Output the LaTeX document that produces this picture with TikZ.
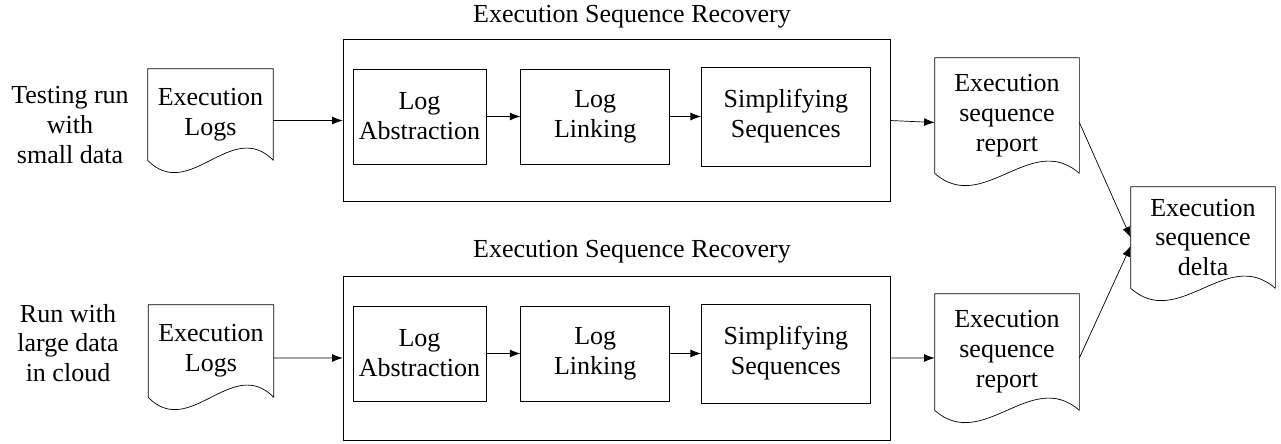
\documentclass[tikz,border=0pt]{standalone}
\usepackage{fontspec}
\setmainfont{Liberation Serif}
\usetikzlibrary{arrows.meta, positioning, calc}
\tikzset{
    -{Latex[length=6pt,width=4.5pt]}, node distance = 0.65cm, line width=0.6pt,% one pixel of the reference is 0.02cm
    every node/.style = {font=\fontsize{14.8}{17}\selectfont, align=center},
    proc/.style = {rectangle, draw, minimum height=1.9cm}, % the three steps inside a recovery box
    stage/.style = {rectangle, draw, minimum width=10.94cm, minimum height=3.24cm}, % the big recovery box
    % a sheet: the node is the flat part, the wavy bottom hangs below it
    doc/.style = {rectangle, minimum width=2.5cm, minimum height=1.82cm,
        append after command={\pgfextra{\draw[-, line join=round] (\tikzlastnode.south west) -- (\tikzlastnode.north west) -- (\tikzlastnode.north east) -- (\tikzlastnode.south east)
            .. controls ($(\tikzlastnode.south west)!0.667!(\tikzlastnode.south east)+(0,0.85cm)$) and ($(\tikzlastnode.south west)!0.333!(\tikzlastnode.south east)+(0,-0.85cm)$) .. (\tikzlastnode.south west) -- cycle;}}}
}
\begin{document}
\begin{tikzpicture}[x=0.02cm, y=-0.02cm]
    \useasboundingbox (0,0) rectangle (1281,443);

    % first run, small data
    \node (lbl1) at (70,125) {Testing run\\with\\small data};
    \node[doc] (logs1) at (210.5,114.5) {Execution\\Logs};
    \node[stage] (outer1) at (616.5,120.5) {};
    \node (title1) at (632,17) {Execution Sequence Recovery};
    \node[proc, minimum width=2.66cm] (abs1) at (419.5,116.5) {Log\\Abstraction};
    \node[proc, minimum width=2.98cm, right=0.68cm of abs1] (link1) {Log\\Linking};
    \node[proc, minimum width=3.38cm, minimum height=1.98cm, right=0.62cm of link1] (simp1) {Simplifying\\Sequences};
    \node[doc, minimum width=2.88cm, minimum height=2.3cm] (rep1) at (1007,115.5) {Execution\\sequence\\report};

    % second run, large data
    \node (lbl2) at (68,343) {Run with\\large data\\in cloud};
    \node[doc, minimum height=1.84cm] (logs2) at (211,351) {Execution\\Logs};
    \node[stage, minimum height=3.28cm] (outer2) at (616.5,358) {};
    \node (title2) at (632,252) {Execution Sequence Recovery};
    \node[proc, minimum width=2.66cm] (abs2) at (419.5,353.5) {Log\\Abstraction};
    \node[proc, minimum width=2.98cm, right=0.68cm of abs2] (link2) {Log\\Linking};
    \node[proc, minimum width=3.38cm, minimum height=1.98cm, right=0.62cm of link2] (simp2) {Simplifying\\Sequences};
    \node[doc, minimum width=2.88cm, minimum height=2.32cm] (rep2) at (1007,352) {Execution\\sequence\\report};

    \node[doc, minimum width=2.88cm, minimum height=2.02cm] (delta) at (1203,237.5) {Execution\\sequence\\delta};

    % arrows leave the sheets a little below their text
    \path ([yshift=-0.12cm]logs1.east) edge (outer1.west);
    \path (abs1) edge (link1);
    \path (link1) edge (simp1);
    \path (outer1.east) edge ([yshift=-0.14cm]rep1.west);
    \path ([yshift=-0.14cm]rep1.east) edge (delta.west);

    \path ([yshift=-0.14cm]logs2.east) edge (outer2.west);
    \path (abs2) edge (link2);
    \path (link2) edge (simp2);
    \path (outer2.east) edge ([yshift=-0.12cm]rep2.west);
    \path ([yshift=-0.12cm]rep2.east) edge ([yshift=-0.17cm]delta.west);
\end{tikzpicture}
\end{document}
